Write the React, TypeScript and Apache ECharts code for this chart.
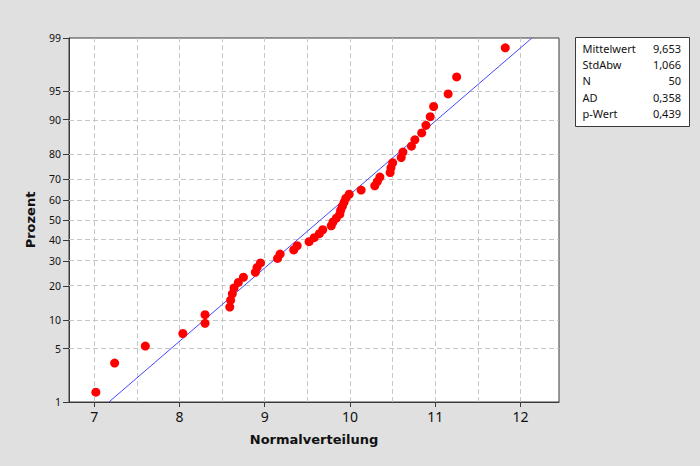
import React, { useEffect, useRef } from "react";
import * as echarts from "echarts";

const sampleValues = [
  7.02, 7.24, 7.6, 8.04, 8.3, 8.3, 8.59, 8.6, 8.62, 8.64,
  8.69, 8.75, 8.89, 8.91, 8.95, 9.15, 9.18, 9.34, 9.38, 9.52,
  9.58, 9.64, 9.68, 9.78, 9.8, 9.84, 9.88, 9.89, 9.91, 9.93,
  9.95, 9.99, 10.13, 10.29, 10.32, 10.35, 10.47, 10.48, 10.5, 10.6,
  10.62, 10.72, 10.76, 10.84, 10.89, 10.94, 10.98, 11.15, 11.25, 11.82,
];
const percentTicks = [1, 5, 10, 20, 30, 40, 50, 60, 70, 80, 90, 95, 99];
const percentGrid = [5, 10, 20, 30, 40, 50, 60, 70, 80, 90, 95];
const xTicks = [7, 8, 9, 10, 11, 12];
const xGrid = [7, 7.5, 8, 8.5, 9, 9.5, 10, 10.5, 11, 11.5, 12];
const statLabels = ["Mittelwert", "StdAbw", "N", "AD", "p-Wert"];
const statValues = ["9,653", "1,066", "50", "0,358", "0,439"];

// Inverse standard normal CDF (Acklam) – the probability-scale transform
function normInv(p: number): number {
  const a = [-39.69683028665376, 220.9460984245205, -275.9285104469687, 138.357751867269, -30.66479806614716, 2.506628277459239];
  const b = [-54.47609879822406, 161.5858368580409, -155.6989798598866, 66.80131188771972, -13.28068155288572];
  const c = [-0.007784894002430293, -0.3223964580411365, -2.400758276161838, -2.549732539343734, 4.374664141464968, 2.938163982698783];
  const d = [0.007784695709041462, 0.3224671290700398, 2.445134137142996, 3.754408661907416];
  const plow = 0.02425;
  if (p < plow) {
    const q = Math.sqrt(-2 * Math.log(p));
    return (((((c[0] * q + c[1]) * q + c[2]) * q + c[3]) * q + c[4]) * q + c[5]) /
      ((((d[0] * q + d[1]) * q + d[2]) * q + d[3]) * q + 1);
  } else if (p <= 1 - plow) {
    const q = p - 0.5;
    const r = q * q;
    return ((((((a[0] * r + a[1]) * r + a[2]) * r + a[3]) * r + a[4]) * r + a[5]) * q) /
      (((((b[0] * r + b[1]) * r + b[2]) * r + b[3]) * r + b[4]) * r + 1);
  }
  const q = Math.sqrt(-2 * Math.log(1 - p));
  return -(((((c[0] * q + c[1]) * q + c[2]) * q + c[3]) * q + c[4]) * q + c[5]) /
    ((((d[0] * q + d[1]) * q + d[2]) * q + d[3]) * q + 1);
}

export default function App() {
  const ref = useRef<HTMLDivElement>(null);
  useEffect(() => {
    document.body.style.margin = "0";
    if (!ref.current) return;
    const chart = echarts.init(ref.current, undefined, { renderer: "svg" });

    const n = sampleValues.length;
    // Median-rank plotting positions (i - 0.3) / (n + 0.4)
    const points = sampleValues.map((v, i) => [v, normInv((i + 1 - 0.3) / (n + 0.4))]);
    const tickZ = percentTicks.map((p) => normInv(p / 100));
    const gridZ = percentGrid.map((p) => normInv(p / 100));
    const zMin = tickZ[0];
    const zMax = tickZ[tickZ.length - 1];
    const mean = parseFloat(statValues[0].replace(",", "."));
    const sd = parseFloat(statValues[1].replace(",", "."));
    const fitLine = [
      [mean + zMin * sd, zMin],
      [mean + zMax * sd, zMax],
    ];
    const labelFor = (v: number) => {
      let best = 0;
      tickZ.forEach((z, i) => {
        if (Math.abs(z - v) < Math.abs(tickZ[best] - v)) best = i;
      });
      return String(percentTicks[best]);
    };

    const gridStyle = { color: "#c6c6c6", width: 1, type: [5, 3] as any };
    const frame = "#3a3a3a";

    const rowY0 = 48.5;
    const rowStep = 16.2;
    const boxChildren: any[] = [
      {
        type: "rect",
        shape: { x: 575.5, y: 37.5, width: 114, height: 89 },
        style: { fill: "#ffffff", stroke: "#3a3a3a", lineWidth: 1 },
      },
    ];
    statLabels.forEach((lab, i) => {
      boxChildren.push({
        type: "text",
        x: 582.5,
        y: rowY0 + i * rowStep,
        style: { text: lab, fill: "#111", font: "11px 'Noto Sans'", textAlign: "left", textVerticalAlign: "middle" },
      });
      boxChildren.push({
        type: "text",
        x: 681,
        y: rowY0 + i * rowStep,
        style: { text: statValues[i], fill: "#111", font: "11px 'Noto Sans'", textAlign: "right", textVerticalAlign: "middle" },
      });
    });

    chart.setOption({
      animation: false,
      backgroundColor: "#e0e0e0",
      grid: {
        left: 69,
        top: 38,
        right: 141,
        bottom: 64,
        show: true,
        backgroundColor: "#ffffff",
        borderColor: frame,
        borderWidth: 1,
      },
      xAxis: {
        type: "value",
        min: 6.705,
        max: 12.45,
        name: "Normalverteilung",
        nameLocation: "middle",
        nameGap: 31,
        nameTextStyle: { fontFamily: "DejaVu Sans", fontWeight: "bold", fontSize: 13, color: "#111" },
        axisLine: { show: true, onZero: false, lineStyle: { color: frame, width: 1 } },
        axisTick: { show: true, length: 5, customValues: xTicks, lineStyle: { color: frame } },
        axisLabel: {
          customValues: xTicks,
          fontFamily: "Noto Sans",
          fontSize: 14,
          color: "#111",
          margin: 7,
          formatter: (v: number) => String(v),
        },
        splitLine: { show: false },
      },
      yAxis: {
        type: "value",
        min: zMin,
        max: zMax,
        name: "Prozent",
        nameLocation: "middle",
        nameGap: 32,
        nameTextStyle: { fontFamily: "DejaVu Sans", fontWeight: "bold", fontSize: 13, color: "#111" },
        axisLine: { show: true, onZero: false, lineStyle: { color: frame, width: 1 } },
        axisTick: { show: true, length: 6, customValues: tickZ, lineStyle: { color: frame } },
        axisLabel: {
          customValues: tickZ,
          fontFamily: "Noto Sans",
          fontSize: 10.5,
          color: "#111",
          margin: 8,
          formatter: (v: number) => labelFor(v),
        },
        splitLine: { show: false },
      },
      series: [
        {
          type: "line",
          data: [],
          silent: true,
          z: 1,
          markLine: {
            silent: true,
            symbol: "none",
            label: { show: false },
            lineStyle: gridStyle,
            emphasis: { disabled: true },
            data: [
              ...xGrid.map((x) => ({ xAxis: x })),
              ...gridZ.map((z) => ({ yAxis: z })),
            ],
          },
        },
        {
          type: "line",
          data: fitLine,
          symbol: "none",
          z: 5,
          lineStyle: { color: "#4646ff", width: 1 },
        },
        {
          type: "scatter",
          data: points,
          symbol: "circle",
          symbolSize: 9,
          z: 10,
          itemStyle: { color: "#ff0000", opacity: 1 },
        },
      ],
      graphic: [{ type: "group", children: boxChildren }],
    });
    return () => chart.dispose();
  }, []);
  return <div ref={ref} style={{ width: 700, height: 466 }} />;
}
